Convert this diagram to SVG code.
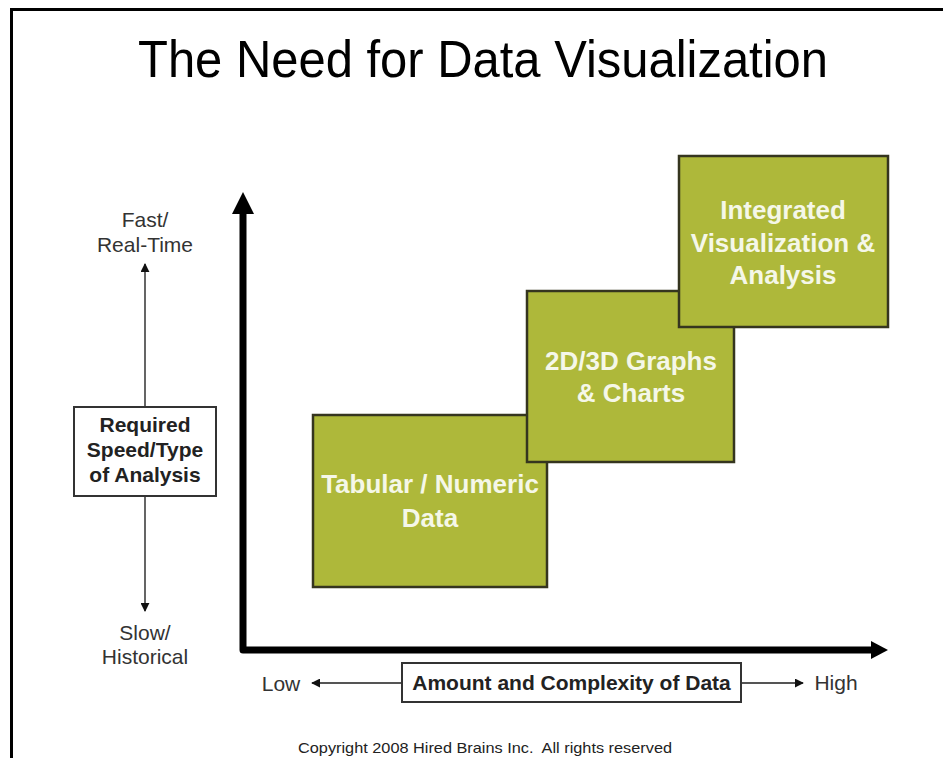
<svg xmlns="http://www.w3.org/2000/svg" width="943" height="758" viewBox="0 0 943 758">
<defs>
<style>
.t{font-family:"Liberation Sans",Arial,sans-serif;}
.lab{font-family:"Liberation Sans",Arial,sans-serif;font-size:21px;fill:#333;text-anchor:middle;}
.bl{font-family:"Liberation Sans",Arial,sans-serif;font-size:21px;font-weight:bold;fill:#222;text-anchor:middle;}
.box{fill:#aeb83a;stroke:#35351f;stroke-width:2.5;}
.bt{font-family:"Liberation Sans",Arial,sans-serif;font-size:26px;font-weight:bold;fill:#f5f7e8;text-anchor:middle;}
.thin{stroke:#555;stroke-width:1.8;fill:none;}
.frame{fill:none;stroke:#000;stroke-width:3;}
.lbox{fill:#fff;stroke:#333;stroke-width:2;}
</style>
<marker id="sa" viewBox="0 0 10 10" refX="9" refY="5" markerWidth="5" markerHeight="5" orient="auto" markerUnits="strokeWidth">
<path d="M0,0 L10,5 L0,10 z" fill="#111"/>
</marker>
</defs>
<rect width="943" height="758" fill="#fff"/>
<rect class="frame" x="11.5" y="9.5" width="940" height="760"/>
<text class="t" x="483" y="77" font-size="52" text-anchor="middle" fill="#000" textLength="690" lengthAdjust="spacingAndGlyphs">The Need for Data Visualization</text>

<g id="connectors">
<path d="M243,213 L243,650 L872,650" fill="none" stroke="#000" stroke-width="7" stroke-linejoin="round"/>
<polygon points="243,192 254,214 232,214" fill="#000"/>
<polygon points="888,650 871,641 871,659" fill="#000"/>
<line class="thin" x1="145" y1="407" x2="145" y2="264" marker-end="url(#sa)"/>
<line class="thin" x1="145" y1="496" x2="145" y2="611" marker-end="url(#sa)"/>
<line class="thin" x1="402" y1="683" x2="312" y2="683" marker-end="url(#sa)"/>
<line class="thin" x1="741" y1="683" x2="803" y2="683" marker-end="url(#sa)"/>
</g>

<g id="fast-label">
<text class="lab" x="145" y="227">Fast/</text>
<text class="lab" x="145" y="252">Real-Time</text>
</g>
<g id="slow-label">
<text class="lab" x="145" y="640">Slow/</text>
<text class="lab" x="145" y="664">Historical</text>
</g>
<g id="speed-box">
<rect class="lbox" x="74" y="407" width="142" height="89"/>
<text class="bl" x="145" y="432">Required</text>
<text class="bl" x="145" y="457">Speed/Type</text>
<text class="bl" x="145" y="482">of Analysis</text>
</g>
<g id="low-label"><text class="lab" x="281" y="691">Low</text></g>
<g id="high-label"><text class="lab" x="836" y="690">High</text></g>
<g id="amount-box">
<rect class="lbox" x="402" y="663" width="339" height="39"/>
<text class="bl" x="571.5" y="690">Amount and Complexity of Data</text>
</g>

<g id="tabular">
<rect class="box" x="313" y="415" width="234" height="172"/>
<text class="bt" x="430" y="493">Tabular / Numeric</text>
<text class="bt" x="430" y="527">Data</text>
</g>
<g id="graphs">
<rect class="box" x="527" y="291" width="207" height="171"/>
<text class="bt" x="631" y="370">2D/3D Graphs</text>
<text class="bt" x="631" y="402">&amp; Charts</text>
</g>
<g id="integrated">
<rect class="box" x="679" y="156" width="209" height="171"/>
<text class="bt" x="783" y="219">Integrated</text>
<text class="bt" x="783" y="252">Visualization &amp;</text>
<text class="bt" x="783" y="284">Analysis</text>
</g>

<text class="t" x="485" y="753" font-size="15" text-anchor="middle" fill="#222" textLength="374" lengthAdjust="spacingAndGlyphs">Copyright 2008 Hired Brains Inc.&#160; All rights reserved</text>
</svg>
